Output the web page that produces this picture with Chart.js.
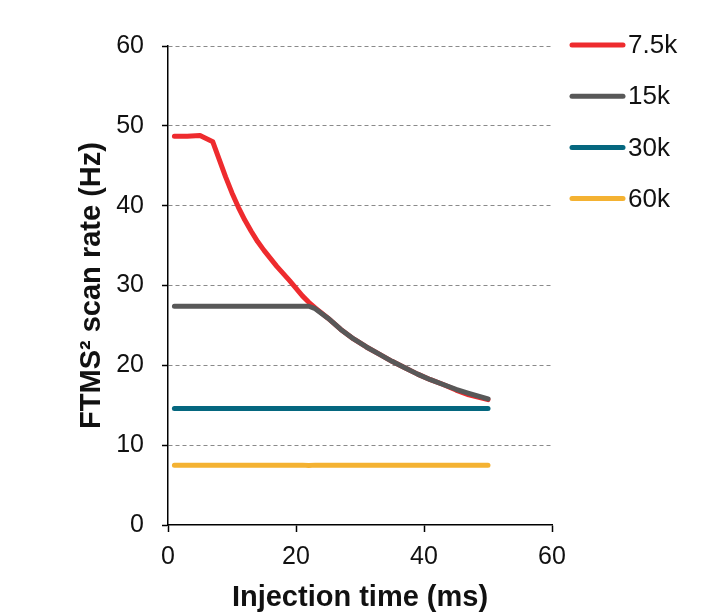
<!DOCTYPE html>
<html>
<head>
<meta charset="utf-8">
<script src="https://cdn.jsdelivr.net/npm/chart.js@4.4.1/dist/chart.umd.min.js"></script>
<style>
  html, body { margin: 0; padding: 0; background: #fff; }
  canvas { display: block; }
</style>
</head>
<body>
<canvas id="chart" width="702" height="615"></canvas>
<script>
// values
const injectionTime = [1, 3, 5, 7, 8, 9, 10, 11, 12, 13, 14, 15, 17, 19, 21, 22, 23, 25, 27, 29, 31, 33, 35, 37, 39, 41, 43, 45, 47, 50];
const rate7_5k = [48.7, 48.7, 48.8, 48.0, 45.8, 43.6, 41.6, 39.8, 38.2, 36.8,
                  35.5, 34.4, 32.4, 30.6, 28.7, 27.9, 27.2, 25.9, 24.5, 23.3,
                  22.3, 21.4, 20.5, 19.7, 18.9, 18.2, 17.6, 16.9, 16.3, 15.7];
const rate15k = [27.4, 27.4, 27.4, 27.4, 27.4, 27.4, 27.4, 27.4, 27.4, 27.4,
                 27.4, 27.4, 27.4, 27.4, 27.4, 27.4, 27.1, 25.9, 24.5, 23.3,
                 22.3, 21.4, 20.5, 19.7, 18.9, 18.2, 17.6, 17.0, 16.5, 15.8];
const rate30k = [14.6, 14.6, 14.6, 14.6, 14.6, 14.6, 14.6, 14.6, 14.6, 14.6,
                 14.6, 14.6, 14.6, 14.6, 14.6, 14.6, 14.6, 14.6, 14.6, 14.6,
                 14.6, 14.6, 14.6, 14.6, 14.6, 14.6, 14.6, 14.6, 14.6, 14.6];
const rate60k = [7.5, 7.5, 7.5, 7.5, 7.5, 7.5, 7.5, 7.5, 7.5, 7.5,
                 7.5, 7.5, 7.5, 7.5, 7.5, 7.45, 7.5, 7.5, 7.5, 7.5,
                 7.5, 7.5, 7.5, 7.5, 7.5, 7.5, 7.5, 7.5, 7.5, 7.5];
const seriesLabels = ["7.5k", "15k", "30k", "60k"];
const seriesColors = ["#ee2b2e", "#585858", "#05677f", "#f4b232"];

const FONT = "'Liberation Sans', Arial, sans-serif";

const toPoints = (vals) => vals.map((v, i) => ({ x: injectionTime[i], y: v }));
const allRates = [rate7_5k, rate15k, rate30k, rate60k];
const drawOrder = [1, 0, 2, 3]; // keep grey on top of red

const datasets = allRates.map((vals, i) => ({
  label: seriesLabels[i],
  data: toPoints(vals),
  borderColor: seriesColors[i],
  backgroundColor: seriesColors[i],
  borderWidth: 5,
  borderCapStyle: "round",
  borderJoinStyle: "round",
  pointRadius: 0,
  tension: 0,
  order: drawOrder[i],
}));

// legend drawn by hand so the spacing matches the original
const sideLegend = {
  id: "sideLegend",
  afterDraw: (chart) => {
    const { ctx, chartArea } = chart;
    ctx.save();
    chart.data.datasets.forEach((ds, i) => {
      const y = chartArea.top - 1 + i * 51.2;
      const x0 = chartArea.right + 20;
      ctx.strokeStyle = ds.borderColor;
      ctx.lineWidth = 5;
      ctx.lineCap = "round";
      ctx.beginPath();
      ctx.moveTo(x0, y);
      ctx.lineTo(x0 + 51, y);
      ctx.stroke();
      ctx.fillStyle = "#111";
      ctx.font = "26px " + FONT;
      ctx.textAlign = "left";
      ctx.textBaseline = "middle";
      ctx.fillText(ds.label, x0 + 56, y + 1);
    });
    ctx.restore();
  },
};

new Chart(document.getElementById("chart"), {
  type: "line",
  data: { datasets },
  options: {
    responsive: false,
    animation: false,
    layout: { padding: { left: 75, right: 150, top: 46, bottom: 0 } },
    plugins: {
      legend: { display: false },
      tooltip: { enabled: false },
    },
    scales: {
      x: {
        type: "linear",
        min: 0,
        max: 60,
        ticks: { stepSize: 20, color: "#111", padding: 10, font: { family: FONT, size: 25 } },
        grid: { drawOnChartArea: false, drawTicks: true, tickLength: 7, tickColor: "#000", tickWidth: 1.5 },
        border: { color: "#000", width: 1.5 },
        title: {
          display: true,
          text: "Injection time (ms)",
          color: "#111",
          font: { family: FONT, size: 29, weight: "bold" },
          padding: { top: 0, bottom: 0 },
        },
        afterFit: (scale) => { scale.height = 90; },
      },
      y: {
        min: 0,
        max: 60,
        ticks: { stepSize: 10, color: "#111", padding: 18, font: { family: FONT, size: 25 } },
        grid: {
          color: (c) => (c.tick && c.tick.value === 0 ? "rgba(0,0,0,0)" : "#8a8a8a"),
          lineWidth: 1,
          tickLength: 6,
          tickColor: "#000",
          tickWidth: 1.5,
        },
        border: { color: "#000", width: 1.5, dash: [4, 3] },
        title: {
          display: true,
          text: "FTMS² scan rate (Hz)",
          color: "#111",
          font: { family: FONT, size: 29, weight: "bold" },
          padding: { top: 0, bottom: 0 },
        },
        afterFit: (scale) => { scale.width = 93; },
      },
    },
  },
  plugins: [sideLegend],
});
</script>
</body>
</html>
